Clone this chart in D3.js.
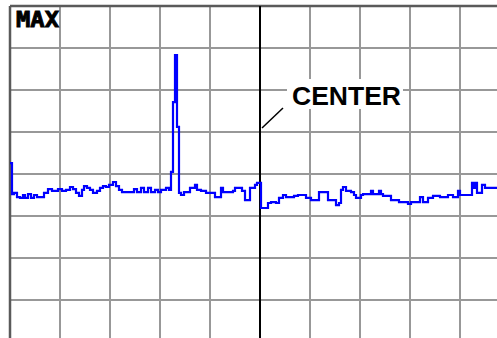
<!DOCTYPE html>
<html>
<head>
<meta charset="utf-8">
<script src="https://cdn.jsdelivr.net/npm/d3@7"></script>
<style>
  html, body { margin: 0; padding: 0; background: #fff; }
  svg { display: block; }
</style>
</head>
<body>
<div id="chart"></div>
<script>
// Sweep point index (501-point sweep, 50 points per division)
const sweepPoints = [0,2,4,7,10,13,15,18,21,24,27,31,34,38,42,45,48,52,56,60,63,66,69,72,74,77,80,83,87,90,93,96,99,103,106,109,112,116,121,124,127,131,134,138,141,145,148,151,156,159,161,163,165,167,169,171,174,180,185,187,191,196,205,211,213,223,225,232,235,240,245,247,251,258,261,266,269,273,276,284,288,296,301,309,318,326,329,331,333,336,341,344,346,351,353,361,363,369,371,373,381,389,398,401,410,413,418,423,430,438,443,448,450,462,464,466,467,472,475,487];
// Trace level, dB (ref level 0 dB, 10 dB/div)
const levels = [-37.4,-44.8,-44.5,-45.5,-45.7,-45.0,-45.7,-44.8,-45.7,-45.0,-45.5,-45.5,-44.5,-43.6,-44.0,-44.0,-43.6,-44.0,-43.8,-43.1,-43.6,-44.5,-45.2,-43.8,-42.9,-43.3,-43.8,-44.5,-44.0,-43.3,-42.9,-43.1,-42.6,-41.9,-42.9,-43.8,-44.3,-44.3,-44.3,-43.6,-44.3,-43.3,-44.3,-43.3,-44.3,-43.8,-44.3,-43.8,-43.3,-43.8,-39.5,-22.9,-11.7,-28.8,-44.5,-45.0,-44.3,-43.3,-42.6,-43.8,-44.0,-44.5,-45.5,-43.3,-44.3,-44.0,-43.3,-44.0,-46.2,-43.3,-42.6,-42.1,-48.1,-46.9,-46.7,-46.9,-45.7,-45.0,-45.5,-45.2,-45.0,-45.7,-46.2,-44.3,-46.2,-47.4,-46.9,-43.8,-43.1,-44.0,-44.3,-45.0,-45.7,-45.0,-44.8,-44.0,-44.8,-44.0,-44.8,-45.2,-46.2,-46.7,-47.1,-46.7,-45.5,-46.7,-45.7,-45.2,-45.5,-45.0,-45.5,-44.0,-45.0,-42.1,-43.3,-42.1,-44.5,-42.6,-43.3,-43.3];
const xGridTicks = [0,50,100,150,200,250,300,350,400,450,500];
const yGridTicks = [0,-10,-20,-30,-40,-50,-60,-70,-80];
const topLabel = "MAX";
const markerLabel = "CENTER";

const W = 497, H = 338;
const svg = d3.select("#chart").append("svg").attr("width", W).attr("height", H);
svg.append("rect").attr("width", W).attr("height", H).attr("fill", "#fff");

const x = d3.scaleLinear().domain([0, 500]).range([10, 510]);
const y = d3.scaleLinear().domain([-80, 0]).range([342, 6]);

const grid = svg.append("g");
grid.selectAll("line.v").data(xGridTicks.filter(d => d !== 0 && d !== 250)).enter().append("line")
  .attr("x1", d => x(d)).attr("x2", d => x(d)).attr("y1", y(0)).attr("y2", y(-80))
  .attr("stroke", "#989898").attr("stroke-width", 2);
grid.selectAll("line.h").data(yGridTicks.filter(d => d !== 0)).enter().append("line")
  .attr("x1", x(0)).attr("x2", x(500)).attr("y1", d => y(d)).attr("y2", d => y(d))
  .attr("stroke", "#989898").attr("stroke-width", 2);
// borders
grid.append("line").attr("x1", x(0)).attr("x2", x(500)).attr("y1", y(0)).attr("y2", y(0))
  .attr("stroke", "#5a5a5a").attr("stroke-width", 2.5);
grid.append("line").attr("x1", x(0)).attr("x2", x(0)).attr("y1", y(0)).attr("y2", y(-80))
  .attr("stroke", "#5a5a5a").attr("stroke-width", 2.5);

// label box for CENTER
svg.append("rect").attr("x", 287).attr("y", 79).attr("width", 116).attr("height", 30).attr("fill", "#fff");

// center line
svg.append("line").attr("x1", x(250)).attr("x2", x(250)).attr("y1", y(0)).attr("y2", y(-80))
  .attr("stroke", "#000").attr("stroke-width", 2);

// trace
const data = sweepPoints.map((p, i) => ({ p, v: levels[i] }));
const line = d3.line().x(d => x(d.p)).y(d => y(d.v)).curve(d3.curveStepAfter);
svg.append("path").datum(data).attr("d", line)
  .attr("fill", "none").attr("stroke", "#0000ff").attr("stroke-width", 2.2)
  .attr("stroke-linejoin", "miter");

// labels
svg.append("text").attr("x", 16).attr("y", 27).text(topLabel)
  .attr("font-family", "DejaVu Sans Mono").attr("font-weight", "bold").attr("font-size", 22)
  .attr("textLength", 43).attr("lengthAdjust", "spacingAndGlyphs").attr("fill", "#000")
  .attr("stroke", "#000").attr("stroke-width", 0.9);
svg.append("text").attr("x", 292).attr("y", 105).text(markerLabel)
  .attr("font-family", "Liberation Sans, Arial, sans-serif").attr("font-weight", "bold").attr("font-size", 25)
  .attr("textLength", 109).attr("lengthAdjust", "spacingAndGlyphs").attr("fill", "#000");
svg.append("line").attr("x1", 262).attr("y1", 128).attr("x2", 283).attr("y2", 108)
  .attr("stroke", "#000").attr("stroke-width", 1.5);
</script>
</body>
</html>
